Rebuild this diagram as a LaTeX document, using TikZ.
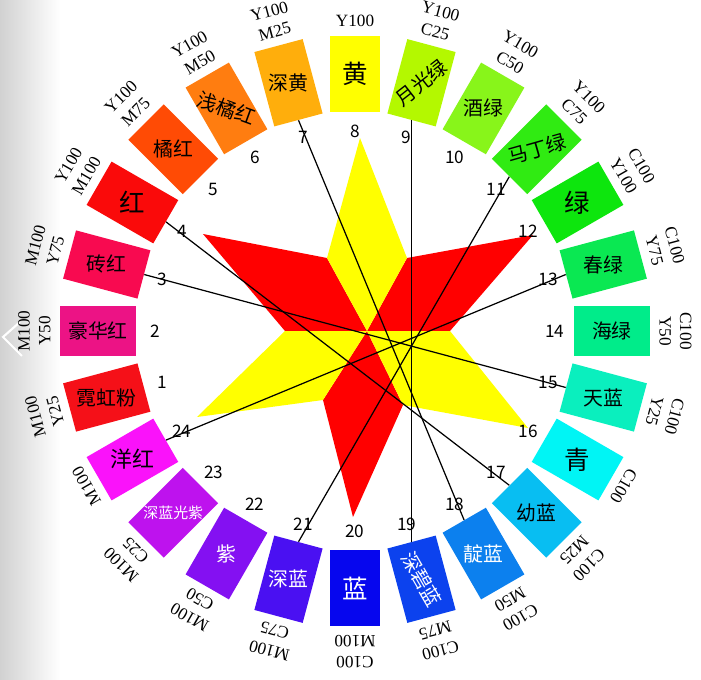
\documentclass[tikz,border=0pt]{standalone}
\usepackage{fontspec}
\setmainfont{Liberation Serif}
\newfontfamily\cjk{Noto Sans CJK SC}
\usetikzlibrary{positioning}

\definecolor{c1}{HTML}{F51018}
\definecolor{c2}{HTML}{EC1385}
\definecolor{c3}{HTML}{F80A50}
\definecolor{c4}{HTML}{FA0A0A}
\definecolor{c5}{HTML}{FF4B05}
\definecolor{c6}{HTML}{FF7D10}
\definecolor{c7}{HTML}{FFAE0C}
\definecolor{c8}{HTML}{FFFF00}
\definecolor{c9}{HTML}{B4F800}
\definecolor{c10}{HTML}{88F51A}
\definecolor{c11}{HTML}{30EB12}
\definecolor{c12}{HTML}{0DE60D}
\definecolor{c13}{HTML}{0AE852}
\definecolor{c14}{HTML}{00EC8A}
\definecolor{c15}{HTML}{0AEFBE}
\definecolor{c16}{HTML}{00F5F5}
\definecolor{c17}{HTML}{08BEF2}
\definecolor{c18}{HTML}{0C80EE}
\definecolor{c19}{HTML}{0C42EE}
\definecolor{c20}{HTML}{0606EE}
\definecolor{c21}{HTML}{4A10F2}
\definecolor{c22}{HTML}{8410F2}
\definecolor{c23}{HTML}{BE12EE}
\definecolor{c24}{HTML}{FA12FA}
\definecolor{staryel}{HTML}{FFFF00}
\definecolor{starred}{HTML}{FF0000}

\begin{document}
\begin{tikzpicture}[x=0.02cm, y=0.02cm,
    swatch/.style={rectangle, inner sep=0pt,
        minimum width=1cm, minimum height=1.54cm},
    tn/.style={font=\cjk\fontsize{11.3}{12}\selectfont},
    tb/.style={font=\cjk\fontsize{14.5}{15}\selectfont},
    tm/.style={font=\cjk\fontsize{12.5}{13}\selectfont},
    ts/.style={font=\cjk\fontsize{8.5}{9}\selectfont},
    num/.style={font=\cjk\fontsize{9.8}{10}\selectfont, inner sep=0pt},
    cmyk/.style={align=center, inner sep=0pt, anchor=south,
        font=\fontsize{9.8}{11.8}\selectfont},
    pair/.style={line width=0.7pt}]

  % page and left edge
  \useasboundingbox (-355,-349) rectangle (346,331);
  \fill[white] (-355,-349) rectangle (346,331);
  \shade[left color=black!18, right color=white] (-355,-349) rectangle (-295,331);
  \draw[white, line width=1.2pt] (-335,9) -- (-352,-6) -- (-333,-25);

  % star
  \coordinate (c) at (12,0);
  \fill[starred] (-152,97) -- (-28,73) -- (c) -- (-70,0) -- cycle;
  \fill[starred] (178,96) -- (95,0) -- (c) -- (52,73) -- cycle;
  \fill[starred] (-2,-186) -- (-32,-69) -- (c) -- (48,-74) -- cycle;
  \fill[staryel] (5,193) -- (52,73) -- (c) -- (-28,73) -- cycle;
  \fill[staryel] (-158,-86) -- (-70,0) -- (c) -- (-32,-69) -- cycle;
  \fill[staryel] (173,-97) -- (48,-74) -- (c) -- (95,0) -- cycle;

  % wheel
  \foreach \i/\col/\txt/\rot/\tc/\fs/\cm
      [evaluate=\i as \a using 210-15*\i,
       evaluate=\i as \b using 120-15*\i] in {
      1/c1/{霓虹粉}/0/black/tn/{M100\\Y25},
      2/c2/{豪华红}/0/black/tn/{M100\\Y50},
      3/c3/{砖红}/0/black/tn/{M100\\Y75},
      4/c4/{红}/0/black/tb/{Y100\\M100},
      5/c5/{橘红}/0/black/tn/{Y100\\M75},
      6/c6/{浅橘红}/-20/black/tn/{Y100\\M50},
      7/c7/{深黄}/0/black/tn/{Y100\\M25},
      8/c8/{黄}/0/black/tb/{Y100},
      9/c9/{月光绿}/38/black/tn/{Y100\\C25},
      10/c10/{酒绿}/0/black/tn/{Y100\\C50},
      11/c11/{马丁绿}/16/black/tn/{Y100\\C75},
      12/c12/{绿}/0/black/tb/{C100\\Y100},
      13/c13/{春绿}/0/black/tn/{C100\\Y75},
      14/c14/{海绿}/0/black/tn/{C100\\Y50},
      15/c15/{天蓝}/0/black/tn/{C100\\Y25},
      16/c16/{青}/0/black/tb/{C100},
      17/c17/{幼蓝}/0/black/tn/{C100\\M25},
      18/c18/{靛蓝}/0/white/tn/{C100\\M50},
      19/c19/{深碧蓝}/-60/white/tn/{C100\\M75},
      20/c20/{蓝}/0/white/tb/{C100\\M100},
      21/c21/{深蓝}/0/white/tn/{M100\\C75},
      22/c22/{紫}/0/white/tn/{M100\\C50},
      23/c23/{深蓝光紫}/0/white/ts/{M100\\C25},
      24/c24/{洋红}/0/black/tm/{M100}}
  {
    \node[swatch, fill=\col, rotate=\b] (s\i) at (\a:257) {};
    \node[\fs, text=\tc, rotate=\rot] (t\i) at (s\i.center) {\txt};
    \node[num] (n\i) at (\a:200) {\i};
    \node[cmyk, rotate=\b] (m\i) at (\a:304) {\cm};
  }

  % complementary pairs
  \foreach \p/\q in {3/15, 4/17, 7/18, 9/19, 11/21, 13/24}
    \draw[pair] (s\p.south) -- (s\q.south);
\end{tikzpicture}
\end{document}
